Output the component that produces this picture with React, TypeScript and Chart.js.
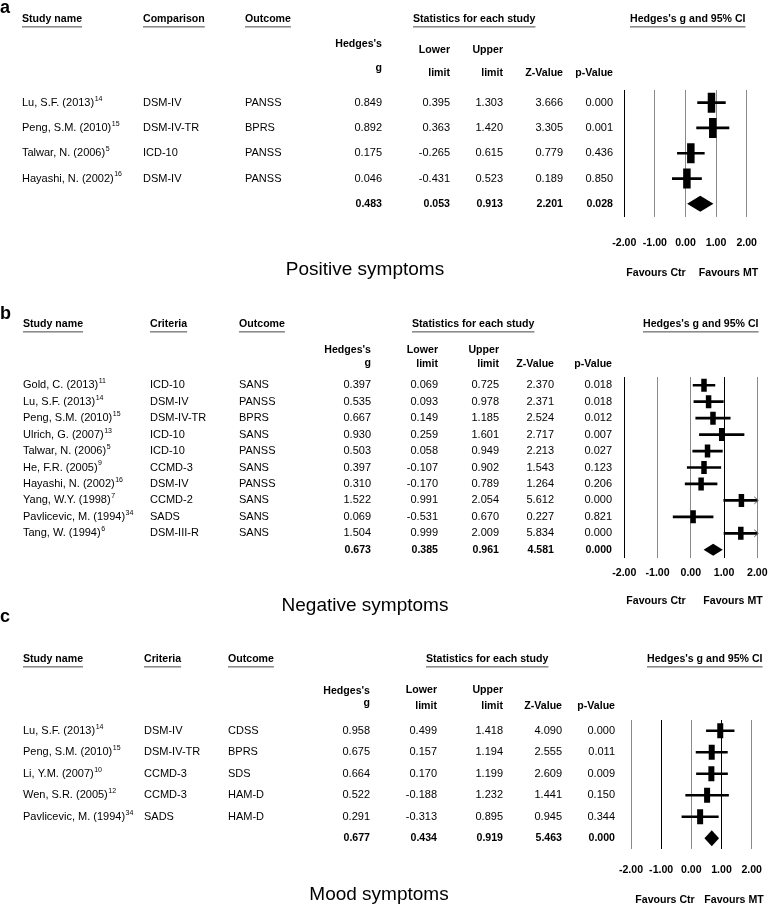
import React, { useEffect, useRef } from "react";
import { Chart, registerables } from "chart.js";
Chart.register(...registerables);

const FONT = '"Liberation Sans", Arial, Helvetica, sans-serif';
const W = 777;
const H = 906;
const AXIS_H = 40;
const BOLD_SIZE = 10.6;
const REG_SIZE = 11;

// ---------- Panel a: Positive symptoms ----------
const posStudies = ["Lu, S.F. (2013)", "Peng, S.M. (2010)", "Talwar, N. (2006)", "Hayashi, N. (2002)"];
const posRefs = ["14", "15", "5", "16"];
const posCriteria = ["DSM-IV", "DSM-IV-TR", "ICD-10", "DSM-IV"];
const posOutcomes = ["PANSS", "BPRS", "PANSS", "PANSS"];
const posG = [0.849, 0.892, 0.175, 0.046];
const posLower = [0.395, 0.363, -0.265, -0.431];
const posUpper = [1.303, 1.42, 0.615, 0.523];
const posZ = [3.666, 3.305, 0.779, 0.189];
const posP = [0.0, 0.001, 0.436, 0.85];
const posSummary = [0.483, 0.053, 0.913, 2.201, 0.028]; // g, lower, upper, Z, p

// ---------- Panel b: Negative symptoms ----------
const negStudies = [
  "Gold, C. (2013)", "Lu, S.F. (2013)", "Peng, S.M. (2010)", "Ulrich, G. (2007)", "Talwar, N. (2006)",
  "He, F.R. (2005)", "Hayashi, N. (2002)", "Yang, W.Y. (1998)", "Pavlicevic, M. (1994)", "Tang, W. (1994)",
];
const negRefs = ["11", "14", "15", "13", "5", "9", "16", "7", "34", "6"];
const negCriteria = ["ICD-10", "DSM-IV", "DSM-IV-TR", "ICD-10", "ICD-10", "CCMD-3", "DSM-IV", "CCMD-2", "SADS", "DSM-III-R"];
const negOutcomes = ["SANS", "PANSS", "BPRS", "SANS", "PANSS", "SANS", "PANSS", "SANS", "SANS", "SANS"];
const negG = [0.397, 0.535, 0.667, 0.93, 0.503, 0.397, 0.31, 1.522, 0.069, 1.504];
const negLower = [0.069, 0.093, 0.149, 0.259, 0.058, -0.107, -0.17, 0.991, -0.531, 0.999];
const negUpper = [0.725, 0.978, 1.185, 1.601, 0.949, 0.902, 0.789, 2.054, 0.67, 2.009];
const negZ = [2.37, 2.371, 2.524, 2.717, 2.213, 1.543, 1.264, 5.612, 0.227, 5.834];
const negP = [0.018, 0.018, 0.012, 0.007, 0.027, 0.123, 0.206, 0.0, 0.821, 0.0];
const negSummary = [0.673, 0.385, 0.961, 4.581, 0.0];

// ---------- Panel c: Mood symptoms ----------
const moodStudies = ["Lu, S.F. (2013)", "Peng, S.M. (2010)", "Li, Y.M. (2007)", "Wen, S.R. (2005)", "Pavlicevic, M. (1994)"];
const moodRefs = ["14", "15", "10", "12", "34"];
const moodCriteria = ["DSM-IV", "DSM-IV-TR", "CCMD-3", "CCMD-3", "SADS"];
const moodOutcomes = ["CDSS", "BPRS", "SDS", "HAM-D", "HAM-D"];
const moodG = [0.958, 0.675, 0.664, 0.522, 0.291];
const moodLower = [0.499, 0.157, 0.17, -0.188, -0.313];
const moodUpper = [1.418, 1.194, 1.199, 1.232, 0.895];
const moodZ = [4.09, 2.555, 2.609, 1.441, 0.945];
const moodP = [0.0, 0.011, 0.009, 0.15, 0.344];
const moodSummary = [0.677, 0.434, 0.919, 5.463, 0.0];

const axisTicks = [-2, -1, 0, 1, 2];

const panels: any[] = [
  {
    letter: "a", critHeader: "Comparison", title: "Positive symptoms",
    studies: posStudies, refs: posRefs, criteria: posCriteria, outcomes: posOutcomes,
    g: posG, lower: posLower, upper: posUpper, z: posZ, p: posP, summary: posSummary,
    darkTicks: [-2],
    geo: {
      l: 624.3, r: 750, t: 90, b: 216.5, tickPad: 20,
      letterY: 8, headerY: 19, hedgesY: 44, gY: 68.5, lowerY: 50, limitY: 73,
      favY: 273, favCtrX: 656, favMtX: 728.5, titleX: 365, titleY: 270,
      cols: { name: 22, crit: 143, out: 245, g: 382, lo: 450, hi: 503, z: 563, p: 613 },
      statsHdrX: 413, ciHdrX: 630, boxR: 10, boxW: 7.5, diamondH: 8, ciW: 2,
    },
  },
  {
    letter: "b", critHeader: "Criteria", title: "Negative symptoms",
    studies: negStudies, refs: negRefs, criteria: negCriteria, outcomes: negOutcomes,
    g: negG, lower: negLower, upper: negUpper, z: negZ, p: negP, summary: negSummary,
    darkTicks: [-2, 1],
    geo: {
      l: 624.3, r: 757.3, t: 377, b: 558, tickPad: 9,
      letterY: 314, headerY: 324, hedgesY: 350, gY: 363, lowerY: 350, limitY: 364,
      favY: 601, favCtrX: 656, favMtX: 733, titleX: 365, titleY: 606,
      cols: { name: 23, crit: 150, out: 239, g: 371, lo: 438, hi: 499, z: 554, p: 612 },
      statsHdrX: 412, ciHdrX: 643, boxR: 6.5, boxW: 5.5, diamondH: 6, ciW: 2,
    },
  },
  {
    letter: "c", critHeader: "Criteria", title: "Mood symptoms",
    studies: moodStudies, refs: moodRefs, criteria: moodCriteria, outcomes: moodOutcomes,
    g: moodG, lower: moodLower, upper: moodUpper, z: moodZ, p: moodP, summary: moodSummary,
    darkTicks: [-1, 1],
    geo: {
      l: 631, r: 763.3, t: 720, b: 849, tickPad: 15,
      letterY: 617, headerY: 659, hedgesY: 691, gY: 703.5, lowerY: 690, limitY: 706,
      favY: 900, favCtrX: 665, favMtX: 734, titleX: 379, titleY: 895,
      cols: { name: 23, crit: 144, out: 228, g: 370, lo: 437, hi: 503, z: 562, p: 615 },
      statsHdrX: 426, ciHdrX: 647, boxR: 7.5, boxW: 6, diamondH: 8, ciW: 2,
    },
  },
];

function txt(ctx: CanvasRenderingContext2D, s: string, x: number, y: number, align: CanvasTextAlign = "left", bold = false, size?: number) {
  const sz = size ?? (bold ? BOLD_SIZE : REG_SIZE);
  ctx.font = `${bold ? "bold " : ""}${sz}px ${FONT}`;
  ctx.textAlign = align;
  ctx.textBaseline = "middle";
  ctx.fillStyle = "#000";
  ctx.fillText(s, x, y);
  return ctx.measureText(s).width;
}

function header(ctx: CanvasRenderingContext2D, s: string, x: number, y: number) {
  const w = txt(ctx, s, x, y, "left", true);
  ctx.fillStyle = "#8c8c8c";
  ctx.fillRect(x, y + 7, w, 1.6);
}

function makePlugin(pn: any) {
  const G = pn.geo;
  const C = G.cols;
  return {
    id: "forestTable" + pn.letter,
    afterDatasetsDraw(chart: any) {
      const ctx = chart.ctx as CanvasRenderingContext2D;
      const xs = chart.scales.x;
      const ys = chart.scales.y;
      ctx.save();
      // summary diamond
      const [sg, slo, shi] = pn.summary;
      const yy = ys.getPixelForValue(pn.studies.length);
      ctx.beginPath();
      ctx.moveTo(xs.getPixelForValue(slo), yy);
      ctx.lineTo(xs.getPixelForValue(sg), yy - G.diamondH);
      ctx.lineTo(xs.getPixelForValue(shi), yy);
      ctx.lineTo(xs.getPixelForValue(sg), yy + G.diamondH);
      ctx.closePath();
      ctx.fillStyle = "#000";
      ctx.fill();
      // arrows for truncated intervals
      const xmax = xs.max;
      pn.upper.forEach((u: number, i: number) => {
        if (u > xmax) {
          const x = xs.getPixelForValue(xmax);
          const y = ys.getPixelForValue(i);
          ctx.beginPath();
          ctx.moveTo(x - 3, y - 3.5);
          ctx.lineTo(x + 1, y);
          ctx.lineTo(x - 3, y + 3.5);
          ctx.strokeStyle = "#555";
          ctx.lineWidth = 1;
          ctx.stroke();
        }
      });
      ctx.restore();
    },
    afterDraw(chart: any) {
      const ctx = chart.ctx as CanvasRenderingContext2D;
      const ys = chart.scales.y;
      ctx.save();
      txt(ctx, pn.letter, 0, G.letterY, "left", true, 18);
      header(ctx, "Study name", C.name, G.headerY);
      header(ctx, pn.critHeader, C.crit, G.headerY);
      header(ctx, "Outcome", C.out, G.headerY);
      header(ctx, "Statistics for each study", G.statsHdrX, G.headerY);
      header(ctx, "Hedges's g and 95% CI", G.ciHdrX, G.headerY);

      txt(ctx, "Hedges's", C.g, G.hedgesY, "right", true);
      txt(ctx, "g", C.g, G.gY, "right", true);
      txt(ctx, "Lower", C.lo, G.lowerY, "right", true);
      txt(ctx, "limit", C.lo, G.limitY, "right", true);
      txt(ctx, "Upper", C.hi, G.lowerY, "right", true);
      txt(ctx, "limit", C.hi, G.limitY, "right", true);
      txt(ctx, "Z-Value", C.z, G.limitY, "right", true);
      txt(ctx, "p-Value", C.p, G.limitY, "right", true);

      pn.studies.forEach((name: string, i: number) => {
        const y = ys.getPixelForValue(i);
        const w = txt(ctx, name, C.name, y, "left");
        txt(ctx, pn.refs[i], C.name + w + 0.5, y - 4, "left", false, 7);
        txt(ctx, pn.criteria[i], C.crit, y);
        txt(ctx, pn.outcomes[i], C.out, y);
        txt(ctx, pn.g[i].toFixed(3), C.g, y, "right");
        txt(ctx, pn.lower[i].toFixed(3), C.lo, y, "right");
        txt(ctx, pn.upper[i].toFixed(3), C.hi, y, "right");
        txt(ctx, pn.z[i].toFixed(3), C.z, y, "right");
        txt(ctx, pn.p[i].toFixed(3), C.p, y, "right");
      });
      const ys2 = ys.getPixelForValue(pn.studies.length);
      const [sg, slo, shi, sz, sp] = pn.summary;
      txt(ctx, sg.toFixed(3), C.g, ys2, "right", true);
      txt(ctx, slo.toFixed(3), C.lo, ys2, "right", true);
      txt(ctx, shi.toFixed(3), C.hi, ys2, "right", true);
      txt(ctx, sz.toFixed(3), C.z, ys2, "right", true);
      txt(ctx, sp.toFixed(3), C.p, ys2, "right", true);

      txt(ctx, "Favours Ctr", G.favCtrX, G.favY, "center", true);
      txt(ctx, "Favours MT", G.favMtX, G.favY, "center", true);
      txt(ctx, pn.title, G.titleX, G.titleY, "center", false, 19);
      ctx.restore();
    },
  };
}

function makeConfig(pn: any): any {
  const G = pn.geo;
  const n = pn.studies.length + 1;
  const ciData = pn.studies.map((_: string, i: number) => ({ x: [pn.lower[i], pn.upper[i]], y: i }));
  const boxData = pn.studies.map((_: string, i: number) => ({ x: pn.g[i], y: i }));
  return {
    type: "scatter",
    data: {
      datasets: [
        {
          type: "bar",
          indexAxis: "y",
          data: ciData,
          backgroundColor: "#000",
          borderWidth: 0,
          barThickness: G.ciW,
          order: 2,
        },
        {
          type: "scatter",
          data: boxData,
          pointStyle: "line",
          rotation: 90,
          radius: G.boxR,
          hoverRadius: G.boxR,
          borderWidth: G.boxW,
          hoverBorderWidth: G.boxW,
          borderColor: "#000",
          backgroundColor: "#000",
          order: 1,
        },
      ],
    },
    options: {
      responsive: false,
      animation: false,
      events: [],
      layout: { padding: { left: G.l, right: W - G.r, top: G.t, bottom: H - G.b - AXIS_H } },
      plugins: { legend: { display: false }, tooltip: { enabled: false }, title: { display: false } },
      scales: {
        x: {
          type: "linear",
          min: axisTicks[0],
          max: axisTicks[axisTicks.length - 1],
          offset: false,
          afterFit: (s: any) => { s.height = AXIS_H; },
          afterBuildTicks: (s: any) => { s.ticks = axisTicks.map((v) => ({ value: v })); },
          border: { display: false },
          grid: {
            drawTicks: false,
            offset: false,
            lineWidth: 1,
            color: (c: any) => (c.tick && pn.darkTicks.includes(c.tick.value) ? "#000" : "#8a8a8a"),
          },
          ticks: {
            autoSkip: false,
            maxRotation: 0,
            padding: G.tickPad,
            color: "#000",
            font: { family: FONT, size: BOLD_SIZE, weight: "bold" },
            callback: (v: any) => Number(v).toFixed(2),
          },
        },
        y: { type: "linear", display: false, reverse: true, offset: false, min: -0.5, max: n - 0.5 },
      },
    },
    plugins: [makePlugin(pn)],
  };
}

function Panel({ pn }: { pn: any }) {
  const ref = useRef<HTMLCanvasElement>(null);
  useEffect(() => {
    const chart = new Chart(ref.current as HTMLCanvasElement, makeConfig(pn));
    return () => chart.destroy();
  }, [pn]);
  return (
    <canvas
      ref={ref}
      width={W}
      height={H}
      style={{ position: "absolute", left: 0, top: 0, width: W, height: H }}
    />
  );
}

export default function App() {
  return (
    <div style={{ position: "absolute", left: 0, top: 0, width: W, height: H, background: "#fff", overflow: "hidden" }}>
      {panels.map((pn) => (
        <Panel key={pn.letter} pn={pn} />
      ))}
    </div>
  );
}
